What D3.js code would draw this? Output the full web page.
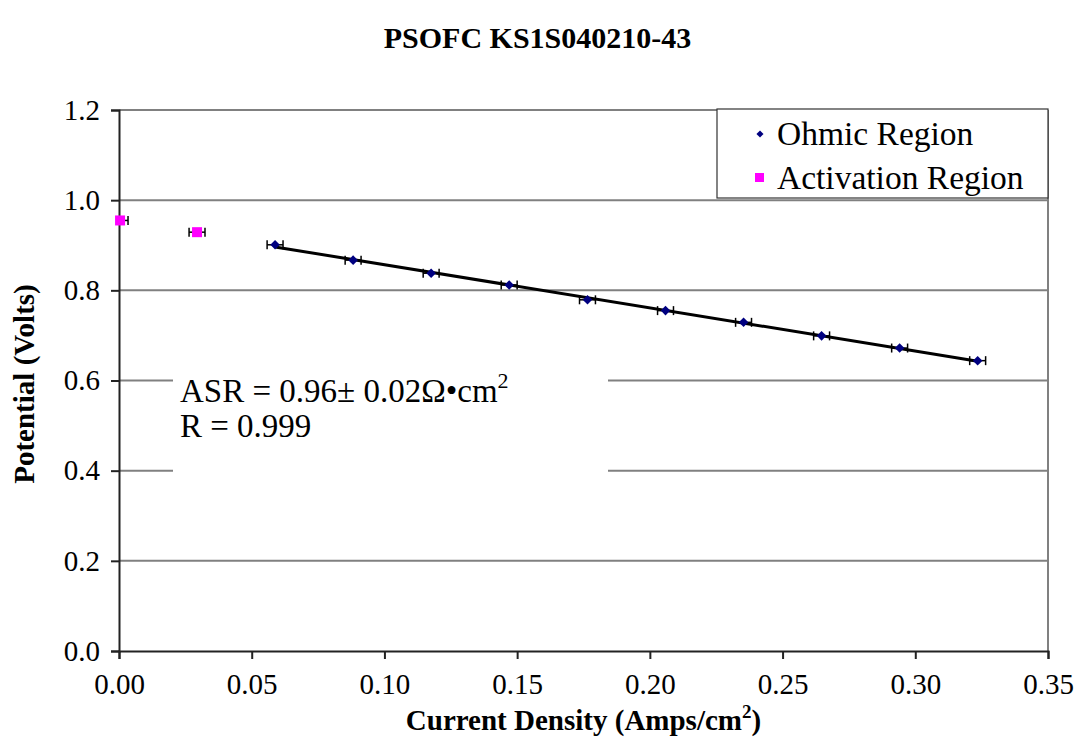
<!DOCTYPE html>
<html>
<head>
<meta charset="utf-8">
<script src="https://cdn.jsdelivr.net/npm/d3@7"></script>
<style>
  body { margin: 0; background: #fff; }
  svg text { font-family: "Liberation Serif", "Times New Roman", serif; }
</style>
</head>
<body>
<div id="chart"></div>
<script>
// values
const ohmicX = [0.0588, 0.0882, 0.1176, 0.1470, 0.1765, 0.2059, 0.2353, 0.2647, 0.2941, 0.3235];
const ohmicY = [0.901, 0.867, 0.838, 0.812, 0.779, 0.755, 0.729, 0.699, 0.672, 0.644];
const activationX = [0.0004, 0.0294];
const activationY = [0.955, 0.929];
const xError = 0.003;
const xTicks = [0, 0.05, 0.10, 0.15, 0.20, 0.25, 0.30, 0.35];
const yTicks = [0, 0.2, 0.4, 0.6, 0.8, 1.0, 1.2];
const legendLabels = ["Ohmic Region", "Activation Region"];

const W = 1075, H = 746;
const margin = {top: 110, right: 27, bottom: 95, left: 119};
const width = W - margin.left - margin.right;
const height = H - margin.top - margin.bottom;

const svg = d3.select("#chart").append("svg")
    .attr("width", W)
    .attr("height", H);

const g = svg.append("g")
    .attr("transform", `translate(${margin.left},${margin.top})`);

const x = d3.scaleLinear().domain([0, 0.35]).range([0, width]);
const y = d3.scaleLinear().domain([0, 1.2]).range([height, 0]);

// gridlines
g.selectAll(".grid")
    .data(yTicks.filter(d => d > 0))
    .enter().append("line")
    .attr("x1", 0).attr("x2", width)
    .attr("y1", d => y(d)).attr("y2", d => y(d))
    .attr("stroke", "#808080")
    .attr("stroke-width", 2);

// right border of plot area
g.append("line")
    .attr("x1", width).attr("x2", width)
    .attr("y1", 0).attr("y2", height)
    .attr("stroke", "#808080")
    .attr("stroke-width", 2);

// axes
const xAxis = g.append("g")
    .attr("transform", `translate(0,${height})`)
    .call(d3.axisBottom(x).tickValues(xTicks).tickFormat(d3.format(".2f")).tickSizeOuter(0).tickSize(8).tickPadding(14));
const yAxis = g.append("g")
    .call(d3.axisLeft(y).tickValues(yTicks).tickFormat(d3.format(".1f")).tickSizeOuter(0).tickSize(8).tickPadding(11));
[xAxis, yAxis].forEach(a => {
    a.selectAll("path, line").attr("stroke", "#222").attr("stroke-width", 2);
    a.selectAll("text").attr("fill", "#000")
        .attr("font-family", null)
        .attr("font-size", null)
        .style("font-size", "29px");
});

// annotation box (covers gridlines)
g.append("rect")
    .attr("x", 173 - margin.left).attr("y", 350 - margin.top)
    .attr("width", 435).attr("height", 125)
    .attr("fill", "#fff");
const ann = g.append("text")
    .attr("x", 180 - margin.left)
    .attr("y", 402 - margin.top)
    .style("font-size", "33px");
ann.append("tspan").text("ASR = 0.96\u00b1 0.02\u03a9\u2022cm");
ann.append("tspan").attr("dy", -14).style("font-size", "22px").text("2");
g.append("text")
    .attr("x", 180 - margin.left)
    .attr("y", 437 - margin.top)
    .style("font-size", "33px")
    .text("R = 0.999");

// linear fit through ohmic region
const mx = d3.mean(ohmicX), my = d3.mean(ohmicY);
const slope = d3.sum(ohmicX, (v, i) => (v - mx) * (ohmicY[i] - my)) / d3.sum(ohmicX, v => (v - mx) ** 2);
const icpt = my - slope * mx;
const xs = d3.extent(ohmicX);
g.append("path")
    .datum(xs)
    .attr("fill", "none")
    .attr("stroke", "#000")
    .attr("stroke-width", 3)
    .attr("d", d3.line().x(d => x(d)).y(d => y(icpt + slope * d)));

// error bars
const allPts = ohmicX.map((v, i) => ({x: v, y: ohmicY[i]}))
    .concat(activationX.map((v, i) => ({x: v, y: activationY[i]})));
const eb = g.append("g");
allPts.forEach(p => {
    const x0 = x(Math.max(0, p.x - xError)), x1 = x(p.x + xError), yy = y(p.y);
    eb.append("line").attr("x1", x0).attr("x2", x1).attr("y1", yy).attr("y2", yy)
        .attr("stroke", "#000").attr("stroke-width", 1.5);
    [p.x - xError, p.x + xError].filter(v => v >= 0).forEach(v => {
        eb.append("line").attr("x1", x(v)).attr("x2", x(v)).attr("y1", yy - 4.5).attr("y2", yy + 4.5)
            .attr("stroke", "#000").attr("stroke-width", 1.5);
    });
});

// markers
const diamond = d3.symbol().type(d3.symbolDiamond2).size(58);
g.selectAll(".ohmic")
    .data(ohmicX.map((v, i) => ({x: v, y: ohmicY[i]})))
    .enter().append("path")
    .attr("d", diamond)
    .attr("transform", d => `translate(${x(d.x)},${y(d.y)})`)
    .attr("fill", "#000080");
g.selectAll(".act")
    .data(activationX.map((v, i) => ({x: v, y: activationY[i]})))
    .enter().append("rect")
    .attr("x", d => x(d.x) - 5).attr("y", d => y(d.y) - 5)
    .attr("width", 10).attr("height", 10)
    .attr("fill", "#ff00ff");

// legend
const lg = svg.append("g").attr("transform", "translate(717,109)");
lg.append("rect")
    .attr("width", 331).attr("height", 89)
    .attr("fill", "#fff").attr("stroke", "#333").attr("stroke-width", 1.2);
lg.append("path")
    .attr("d", d3.symbol().type(d3.symbolDiamond2).size(32))
    .attr("transform", "translate(43,25)")
    .attr("fill", "#000080");
lg.append("rect")
    .attr("x", 38).attr("y", 64).attr("width", 9).attr("height", 9)
    .attr("fill", "#ff00ff");
lg.selectAll(".lt")
    .data(legendLabels)
    .enter().append("text")
    .attr("x", 60)
    .attr("y", (d, i) => 36 + i * 44)
    .style("font-size", "33.5px")
    .text(d => d);

// titles
svg.append("text")
    .attr("x", W / 2).attr("y", 48)
    .attr("text-anchor", "middle")
    .style("font-size", "30px").style("font-weight", "bold")
    .text("PSOFC KS1S040210-43");

const xt = svg.append("text")
    .attr("x", margin.left + width / 2).attr("y", 730)
    .attr("text-anchor", "middle")
    .style("font-size", "29px").style("font-weight", "bold");
xt.append("tspan").text("Current Density (Amps/cm");
xt.append("tspan").attr("dy", -12).style("font-size", "19px").text("2");
xt.append("tspan").attr("dy", 12).text(")");

svg.append("text")
    .attr("transform", `translate(34,384) rotate(-90)`)
    .attr("text-anchor", "middle")
    .style("font-size", "29px").style("font-weight", "bold")
    .text("Potential (Volts)");
</script>
</body>
</html>
